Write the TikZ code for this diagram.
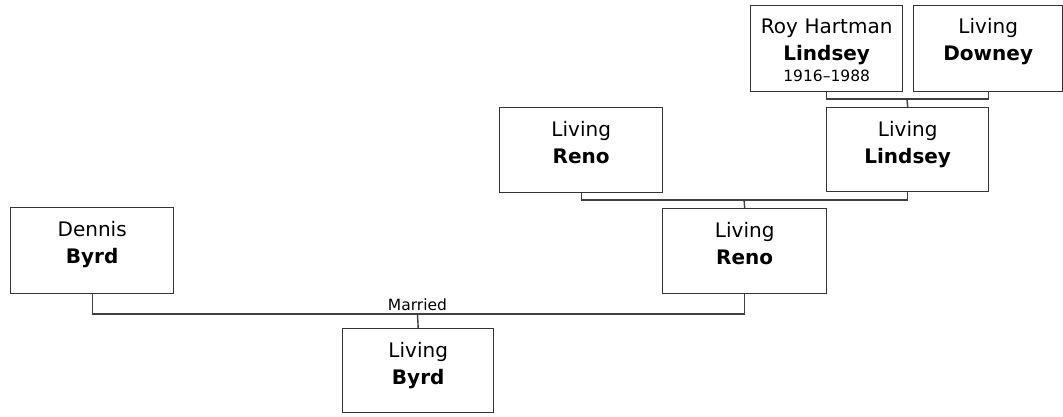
\documentclass[tikz,border=0pt]{standalone}
\usepackage{fontspec}
\setmainfont{DejaVu Sans}
\begin{document}
\begin{tikzpicture}[x=1pt,y=-1pt,
  person/.style={draw=black!80, line width=1.4pt, inner sep=0pt, anchor=north west,
    align=center, text height=29pt, font=\fontsize{20}{26.5}\selectfont},
  link/.style={draw=black!75, line width=1.4pt},
  note/.style={inner sep=0pt, anchor=base, font=\fontsize{15.5}{19}\selectfont}]
\useasboundingbox (0,0) rectangle (1063,416);
\fill[white] (0,0) rectangle (1063,416);
% people
\node[person, text width=163pt, text depth=57pt] (dennis) at (10,207) {Dennis\\\textbf{Byrd}};
\node[person, text width=151pt, text depth=55pt] (byrd) at (342,328) {Living\\\textbf{Byrd}};
\node[person, text width=164pt, text depth=56pt] (renoL) at (662,208) {Living\\\textbf{Reno}};
\node[person, text width=163pt, text depth=56pt] (renoU) at (499,107) {Living\\\textbf{Reno}};
\node[person, text width=162pt, text depth=55pt] (lindsey) at (826,107) {Living\\\textbf{Lindsey}};
\node[person, text width=152pt, text height=28pt, text depth=58pt] (roy) at (750,5) {Roy Hartman\\\textbf{Lindsey}\\[-5.5pt]{\fontsize{15.5}{19}\selectfont 1916–1988}};
\node[person, text width=149pt, text height=28pt, text depth=58pt] (downey) at (913,5) {Living\\\textbf{Downey}};
% marriage label
\coordinate (m1) at (417.5,314);
\node[note] (married) at (417.5,310) {Married};
% connectors
\draw[link] (dennis.south) |- (m1) -| (renoL.south);
\draw[link] (m1) -- (byrd.north);
\coordinate (m2) at (744,200);
\draw[link] (renoU.south) |- (m2) -| (lindsey.south);
\draw[link] (m2) -- (renoL.north);
\coordinate (m3) at (907,99);
\draw[link] (roy.south) |- (m3) -| (downey.south);
\draw[link] (m3) -- (lindsey.north);
\end{tikzpicture}
\end{document}
